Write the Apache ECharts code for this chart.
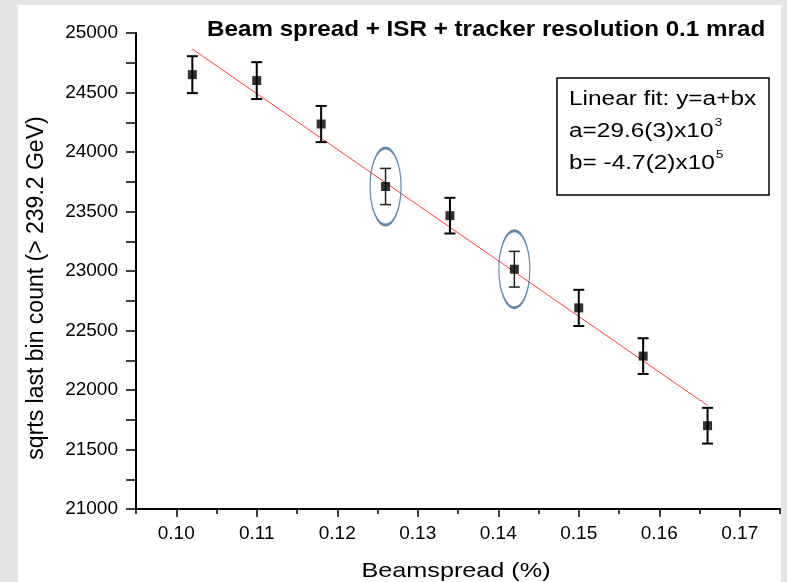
<!DOCTYPE html>
<html>
<head>
<meta charset="utf-8">
<script src="https://cdn.jsdelivr.net/npm/echarts@6/dist/echarts.min.js"></script>
<style>
  html, body { margin: 0; padding: 0; background: #fff; }
  #chart { width: 787px; height: 582px; }
</style>
</head>
<body>
<div id="chart"></div>
<script>
// beamspread (%) and counts
const beamspread = [0.102, 0.110, 0.118, 0.126, 0.134, 0.142, 0.150, 0.158, 0.166];
const counts = [24650, 24600, 24235, 23710, 23465, 23015, 22690, 22285, 21700];
const countErrors = [155, 155, 152, 152, 150, 150, 152, 150, 150];
// points with a blue ellipse round them
const circledIndex = [3, 5];
// ends of the red linear fit
const fitLine = [[0.102, 24865], [0.166, 21870]];
// tick labels
const xMajorTicks = [0.10, 0.11, 0.12, 0.13, 0.14, 0.15, 0.16, 0.17];
const xMinorTicks = [0.095, 0.105, 0.115, 0.125, 0.135, 0.145, 0.155, 0.165, 0.175];
const yTicks = [21000, 21500, 22000, 22500, 23000, 23500, 24000, 24500, 25000];

const FONT = "'Liberation Sans', Arial, sans-serif";

const chart = echarts.init(document.getElementById("chart"));

const points = beamspread.map((x, i) => [x, counts[i]]);
const errData = beamspread.map((x, i) => [x, counts[i], countErrors[i]]);
const circled = circledIndex.map((i) => [beamspread[i], counts[i]]);

const option = {
  animation: false,
  backgroundColor: "#ffffff",
  grid: { left: 136, top: 33, right: 7, bottom: 73 },
  xAxis: [
    {
      type: "value",
      min: 0.095,
      max: 0.175,
      splitLine: { show: false },
      axisLine: { show: true, onZero: false, lineStyle: { color: "#000", width: 2 } },
      axisTick: { show: true, customValues: xMajorTicks, length: 8, lineStyle: { color: "#000", width: 1.5 } },
      axisLabel: {
        customValues: xMajorTicks,
        formatter: (v) => v.toFixed(2),
        color: "#000",
        fontFamily: FONT,
        fontSize: 19,
        margin: 15,
      },
    },
    {
      type: "value",
      min: 0.095,
      max: 0.175,
      position: "bottom",
      splitLine: { show: false },
      axisLine: { show: false },
      axisTick: { show: true, customValues: xMinorTicks, length: 5, lineStyle: { color: "#000", width: 1.5 } },
      axisLabel: { show: false },
    },
  ],
  yAxis: {
    type: "value",
    min: 21000,
    max: 25000,
    interval: 500,
    splitLine: { show: false },
    axisLine: { show: true, onZero: false, lineStyle: { color: "#000", width: 2 } },
    axisTick: { show: true, length: 10, lineStyle: { color: "#000", width: 1.5 } },
    minorTick: { show: true, splitNumber: 2, length: 10, lineStyle: { color: "#000", width: 1.5 } },
    axisLabel: {
      color: "#000",
      fontFamily: FONT,
      fontSize: 19,
      margin: 18,
      formatter: (v) => (yTicks.includes(v) ? String(v) : ""),
    },
  },
  series: [
    {
      name: "fit",
      type: "line",
      data: fitLine,
      symbol: "none",
      lineStyle: { color: "#ff3b3b", width: 1 },
      z: 2,
    },
    {
      name: "error",
      type: "custom",
      data: errData,
      renderItem: (params, api) => {
        const x = api.value(0);
        const y = api.value(1);
        const e = api.value(2);
        const top = api.coord([x, y + e]);
        const bot = api.coord([x, y - e]);
        const cap = 5.5;
        const thin = circledIndex.includes(params.dataIndex);
        const style = { stroke: thin ? "#222" : "#000", lineWidth: thin ? 1.5 : 2 };
        return {
          type: "group",
          children: [
            { type: "line", shape: { x1: top[0], y1: top[1], x2: bot[0], y2: bot[1] }, style },
            { type: "line", shape: { x1: top[0] - cap, y1: top[1], x2: top[0] + cap, y2: top[1] }, style },
            { type: "line", shape: { x1: bot[0] - cap, y1: bot[1], x2: bot[0] + cap, y2: bot[1] }, style },
          ],
        };
      },
      z: 3,
    },
    {
      name: "counts",
      type: "scatter",
      data: points,
      symbol: "rect",
      symbolSize: 9,
      itemStyle: { color: "#000" },
      z: 4,
    },
    {
      name: "circled",
      type: "scatter",
      data: circled,
      symbol: "circle",
      symbolSize: [31, 77],
      itemStyle: { color: "rgba(0,0,0,0)", borderColor: "#3a6896", borderWidth: 1.8 },
      z: 5,
    },
  ],
  graphic: [
    // grey frame round the picture
    { type: "rect", shape: { x: 0, y: 0, width: 18, height: 582 }, style: { fill: "#e4e4e4" }, silent: true },
    { type: "rect", shape: { x: 0, y: 0, width: 787, height: 5 }, style: { fill: "#e4e4e4" }, silent: true },
    { type: "rect", shape: { x: 781, y: 0, width: 6, height: 582 }, style: { fill: "#e4e4e4" }, silent: true },
    {
      type: "text",
      x: 207,
      y: 30,
      scaleX: 1.1,
      style: {
        text: "Beam spread + ISR + tracker resolution 0.1 mrad",
        font: "bold 22px " + FONT,
        fill: "#000",
        verticalAlign: "middle",
      },
    },
    {
      type: "text",
      x: 37,
      y: 288,
      rotation: Math.PI / 2,
      style: {
        text: "sqrts last bin count (> 239.2 GeV)",
        font: "23px " + FONT,
        fill: "#000",
        align: "center",
        verticalAlign: "middle",
      },
    },
    {
      type: "text",
      x: 456,
      y: 571,
      scaleX: 1.2,
      style: {
        text: "Beamspread (%)",
        font: "21px " + FONT,
        fill: "#000",
        align: "center",
        verticalAlign: "middle",
      },
    },
    {
      type: "rect",
      shape: { x: 557, y: 78, width: 212, height: 117 },
      style: { fill: "#fff", stroke: "#000", lineWidth: 1.5 },
      z: 10,
    },
    {
      type: "text",
      x: 569,
      y: 83,
      scaleX: 1.22,
      z: 11,
      style: {
        text: "Linear fit: y=a+bx\na=29.6(3)x10{sup|3}\nb= -4.7(2)x10{sup|5}",
        font: "20px " + FONT,
        fill: "#000",
        lineHeight: 32,
        rich: {
          sup: { fontSize: 11, fontFamily: FONT, verticalAlign: "top", lineHeight: 12, padding: [2, 0, 0, 1] },
        },
      },
    },
  ],
};

chart.setOption(option);
</script>
</body>
</html>
